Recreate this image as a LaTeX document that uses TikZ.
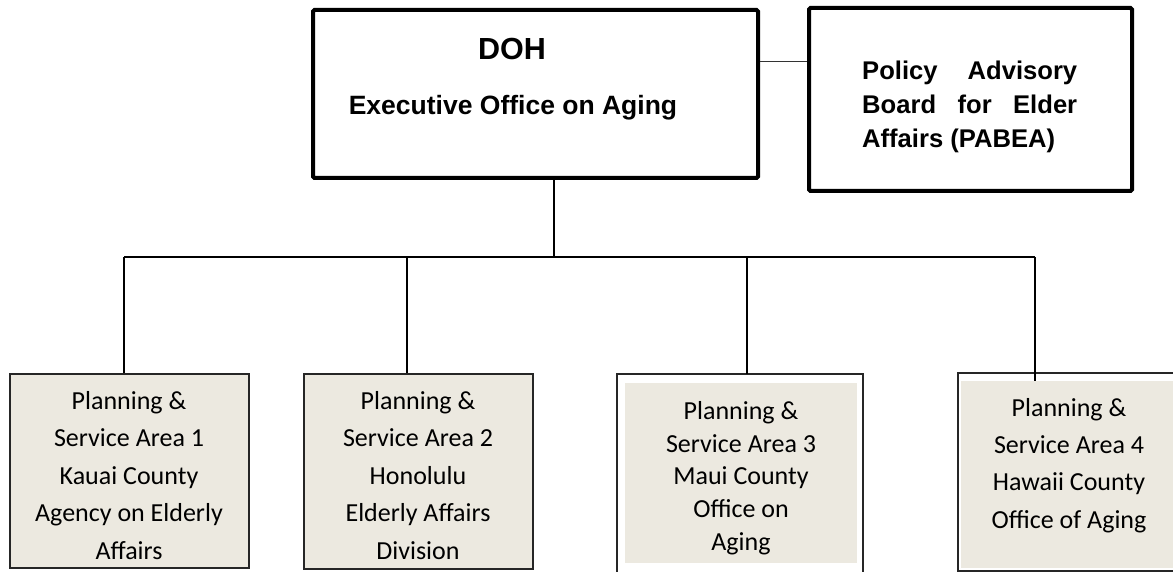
\documentclass[tikz,border=0pt]{standalone}
\usepackage{fontspec}
\setmainfont{Liberation Sans}
\newfontfamily\calibri{Carlito}
\definecolor{boxfill}{RGB}{236,233,224}
\begin{document}
\begin{tikzpicture}[x=1pt,y=-1pt,
  topbox/.style={draw=black, line width=4pt, rounded corners=1.5pt, inner sep=0pt},
  areabox/.style={draw=black!85, line width=1.5pt, fill=boxfill, inner sep=0pt},
  areafill/.style={fill=boxfill, inner sep=0pt},
  openbox/.style={draw=black!85, line width=1.5pt},
  conn/.style={draw=black, line width=1.4pt},
  thinconn/.style={draw=black!80, line width=1pt},
  arealabel/.style={font=\calibri\fontsize{26}{37.5}\selectfont, align=center, inner sep=0pt, anchor=north},
  toplabel/.style={font=\bfseries, inner sep=0pt, anchor=base}
]
\useasboundingbox (0,0) rectangle (1173,572);
% top boxes
\node[topbox, minimum width=445pt, minimum height=168pt] (doh) at (535.5,94) {};
\node[topbox, minimum width=323pt, minimum height=183pt] (pabea) at (970.5,99.5) {};
\node[toplabel, font=\bfseries\fontsize{30.5}{36}\selectfont] (dohT) at (512,60) {DOH};
\node[toplabel, font=\bfseries\fontsize{26.5}{32}\selectfont] (eoa) at (513,115) {Executive Office on Aging};
\node[font=\bfseries\fontsize{25.6}{34}\selectfont, align=left, inner sep=0pt, anchor=north west] (pabeaT) at (862,61)
  {\makebox[215pt][s]{Policy\hfil Advisory}\\\makebox[215pt][s]{Board\hfil for\hfil Elder}\\Affairs (PABEA)};
% connector between top boxes
\coordinate (side) at (700,62);
\draw[thinconn] (doh.east |- side) -- (pabea.west |- side);
% bus
\coordinate (jd) at (554,257);
\coordinate (j1) at (124,257);
\coordinate (j2) at (407,257);
\coordinate (j3) at (747,257);
\coordinate (j4) at (1035,257);
% area boxes
\node[areabox, minimum width=239pt, minimum height=194pt] (b1) at (129.5,471) {};
\node[areabox, minimum width=229pt, minimum height=195pt] (b2) at (418.5,471.5) {};
\draw[openbox] (617,572) -- (617,374) coordinate (b3tl) -- (863,374) coordinate (b3tr) -- (863,572);
\node[areafill, minimum width=232pt, minimum height=180pt] (b3) at (741,473) {};
\draw[openbox] (1175,373) -- (958,373) coordinate (b4tl) -- (958,571) -- (1175,571);
\node[areafill, minimum width=215pt, minimum height=187pt] (b4) at (1068.5,474.5) {};
% connectors
\draw[conn] (jd |- doh.south) -- (jd);
\draw[conn] (j1) -- (j4);
\draw[conn] (j1) -- (j1 |- b1.north);
\draw[conn] (j2) -- (j2 |- b2.north);
\draw[conn] (j3) -- (j3 |- b3tl);
\draw[conn] (j4) -- (j4 |- b4.north);
% labels
\node[arealabel] (t1) at (129,391) {Planning \&\\Service Area 1\\Kauai County\\Agency on Elderly\\Affairs};
\node[arealabel] (t2) at (418,391) {Planning \&\\Service Area 2\\Honolulu\\Elderly Affairs\\Division};
\node[arealabel, font=\calibri\fontsize{26}{32.8}\selectfont] (t3) at (741,401) {Planning \&\\Service Area 3\\Maui County\\Office on\\Aging};
\node[arealabel, font=\calibri\fontsize{26}{37.3}\selectfont] (t4) at (1069,398) {Planning \&\\Service Area 4\\Hawaii County\\Office of Aging};
\end{tikzpicture}
\end{document}
